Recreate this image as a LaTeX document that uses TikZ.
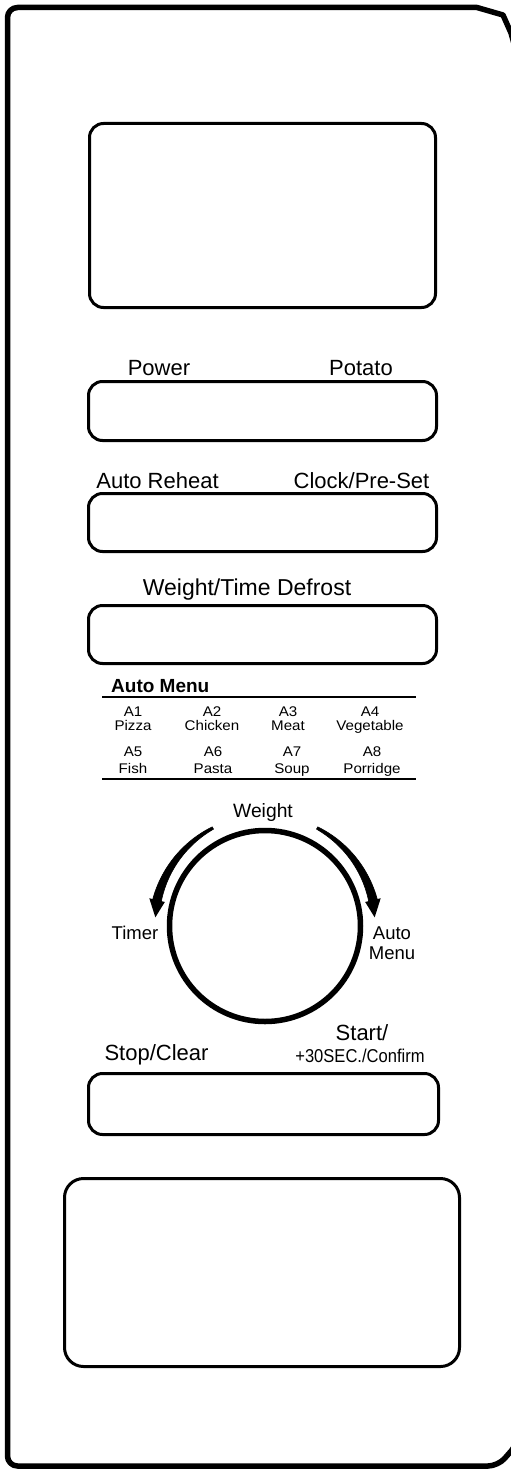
\documentclass[tikz,border=0pt]{standalone}
\usepackage{fontspec}
\setmainfont{Liberation Sans}
\newfontfamily\smallfont[FakeStretch=1.08]{Liberation Sans}
\newfontfamily\condfont[FakeStretch=0.89]{Liberation Sans}
\begin{document}
\begin{tikzpicture}[x=1pt,y=-1pt,
  frame/.style={line width=5.5pt, line join=round, line cap=round},
  btn/.style={line width=3pt, rounded corners=14pt},
  lbl/.style={anchor=base, inner sep=0pt, font=\fontsize{22}{22}\selectfont},
  dlbl/.style={anchor=base, inner sep=0pt, font=\fontsize{18.5}{19}\selectfont},
  sml/.style={anchor=base, inner sep=0pt, font=\smallfont\fontsize{14}{14}\selectfont},
  rule/.style={line width=2.7pt}
]
\useasboundingbox (0,0) rectangle (511,1469);
\fill[white] (0,0) rectangle (511,1469);

% outer frame
\draw[frame] (518,58) -- (511,33) -- (503,15) -- (477,7.5)
  [rounded corners=10pt] -- (7.5,7.5) -- (7.5,1466) -- (498,1466)
  [sharp corners] -- (512,1450) -- (518,1440);

% display windows and buttons
\draw[btn] (89.5,123.5) rectangle (435.5,307.5);
\draw[btn] (88.5,381.5) rectangle (436.5,440.5);
\draw[btn] (88.5,493.5) rectangle (436.5,551.5);
\draw[btn] (88.5,605.5) rectangle (436.5,663.5);
\draw[btn] (88.5,1073.5) rectangle (438.5,1134.5);
\draw[btn, rounded corners=19pt] (64.5,1178.5) rectangle (459.5,1366.5);

% button labels
\node[lbl] (power) at (159,375) {Power};
\node[lbl] (potato) at (361,375) {Potato};
\node[lbl] (reheat) at (157.5,488) {Auto Reheat};
\node[lbl] (clock) at (361.5,488) {Clock/Pre-Set};
\node[lbl, font=\fontsize{23}{23}\selectfont] (defrost) at (247,595) {Weight/Time Defrost};

% auto menu table
\node[anchor=base west, inner sep=0pt, font=\bfseries\fontsize{19}{19}\selectfont] (automenu) at (111,692) {Auto Menu};
\draw[rule] (102,697) -- (416,697);
\draw[rule] (102,779) -- (416,779);
\node[sml] (a1) at (133,716) {A1};   \node[sml] (a1n) at (133,730) {Pizza};
\node[sml] (a2) at (212,716) {A2};   \node[sml] (a2n) at (212,730) {Chicken};
\node[sml] (a3) at (288,716) {A3};   \node[sml] (a3n) at (288,730) {Meat};
\node[sml] (a4) at (370,716) {A4};   \node[sml] (a4n) at (370,730) {Vegetable};
\node[sml] (a5) at (133,756) {A5};   \node[sml] (a5n) at (133,773) {Fish};
\node[sml] (a6) at (213,756) {A6};   \node[sml] (a6n) at (213,773) {Pasta};
\node[sml] (a7) at (292,756) {A7};   \node[sml] (a7n) at (292,773) {Soup};
\node[sml] (a8) at (372,756) {A8};   \node[sml] (a8n) at (372,773) {Porridge};

% dial
\node[dlbl, font=\fontsize{19.3}{19}\selectfont] (weight) at (263,817) {Weight};
\draw[line width=5.5pt] (265,926) circle[radius=95.5];
\node[dlbl] (timer) at (135,939) {Timer};
\node[dlbl] (auto) at (392,939) {Auto};
\node[dlbl] (menu) at (392,959) {Menu};

% left arrow (counter-clockwise, tapered)
\fill[draw, line width=0.6pt, line join=round] plot[domain=118:168, samples=40]
   ({265+(111+1.3+3.2*(\x-118)/50)*cos(\x)}, {926-(111+1.3+3.2*(\x-118)/50)*sin(\x)})
 -- plot[domain=168:118, samples=40]
   ({265+(111-1.3-3.2*(\x-118)/50)*cos(\x)}, {926-(111-1.3-3.2*(\x-118)/50)*sin(\x)})
 -- cycle;
\fill ({265+119*cos(166.5)}, {926-119*sin(166.5)}) -- ({265+110*cos(175.5)}, {926-110*sin(175.5)})
  -- ({265+103*cos(166.5)}, {926-103*sin(166.5)}) -- cycle;

% right arrow (clockwise, tapered)
\fill[draw, line width=0.6pt, line join=round] plot[domain=62:12, samples=40]
   ({265+(111+1.3+3.2*(62-\x)/50)*cos(\x)}, {926-(111+1.3+3.2*(62-\x)/50)*sin(\x)})
 -- plot[domain=12:62, samples=40]
   ({265+(111-1.3-3.2*(62-\x)/50)*cos(\x)}, {926-(111-1.3-3.2*(62-\x)/50)*sin(\x)})
 -- cycle;
\fill ({265+119*cos(13.5)}, {926-119*sin(13.5)}) -- ({265+110*cos(4.5)}, {926-110*sin(4.5)})
  -- ({265+103*cos(13.5)}, {926-103*sin(13.5)}) -- cycle;

% start / stop labels
\node[lbl] (stop) at (156.5,1060) {Stop/Clear};
\node[lbl] (start) at (362,1040) {Start/};
\node[anchor=base, inner sep=0pt, font=\condfont\fontsize{18.6}{19}\selectfont] (confirm) at (360,1062) {+30SEC./Confirm};
\end{tikzpicture}
\end{document}
